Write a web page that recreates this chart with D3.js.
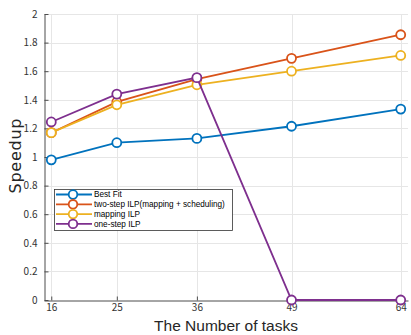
<!DOCTYPE html>
<html>
<head>
<meta charset="utf-8">
<script src="https://cdn.jsdelivr.net/npm/d3@7"></script>
<style>
  html, body { margin: 0; padding: 0; background: #fff; }
  svg { display: block; }
  text { font-family: "Noto Sans CJK JP", "DejaVu Sans", sans-serif; }
</style>
</head>
<body>
<svg id="chart" width="411" height="335"></svg>
<script>
// Number of tasks on the x axis
const tasks = [16, 25, 36, 49, 64];
// Speedup for each method
const bestFit = [0.98, 1.10, 1.13, 1.215, 1.335];
const twoStepILP = [1.17, 1.385, 1.545, 1.69, 1.855];
const mappingILP = [1.17, 1.365, 1.505, 1.60, 1.71];
const oneStepILP = [1.245, 1.44, 1.555, 0, 0];
const seriesNames = ["Best Fit", "two-step ILP(mapping + scheduling)", "mapping ILP", "one-step ILP"];
const seriesColors = ["#0072BD", "#D95319", "#EDB120", "#7E2F8E"];
const yTicks = [0, 0.2, 0.4, 0.6, 0.8, 1, 1.2, 1.4, 1.6, 1.8, 2];

const series = [bestFit, twoStepILP, mappingILP, oneStepILP].map((vals, i) => ({
  name: seriesNames[i], color: seriesColors[i], values: vals
}));

const svg = d3.select("#chart");
const plotLeft = 44, plotRight = 408, plotTop = 14, plotBottom = 300;

const x = d3.scaleLinear().domain([15, 65]).range([plotLeft, plotRight]);
const y = d3.scaleLinear().domain([0, 2]).range([plotBottom, plotTop]);

// grid
const grid = svg.append("g").attr("stroke", "#e6e6e6").attr("stroke-width", 1);
grid.selectAll(".gy").data(yTicks.slice(1)).join("line")
  .attr("x1", plotLeft).attr("x2", plotRight)
  .attr("y1", d => Math.round(y(d)) + 0.5).attr("y2", d => Math.round(y(d)) + 0.5);
grid.selectAll(".gx").data(tasks).join("line")
  .attr("y1", plotTop).attr("y2", plotBottom)
  .attr("x1", d => Math.round(x(d)) + 0.5).attr("x2", d => Math.round(x(d)) + 0.5);

// axes
const yAxis = d3.axisLeft(y).tickValues(yTicks).tickSizeInner(-4).tickSizeOuter(0)
  .tickPadding(7).tickFormat(d3.format("~g"));
const xAxis = d3.axisBottom(x).tickValues(tasks).tickSizeInner(-4).tickSizeOuter(0)
  .tickPadding(4);

const gy = svg.append("g").attr("transform", `translate(${plotLeft + 0.5},0)`).call(yAxis);
const gx = svg.append("g").attr("transform", `translate(0,${plotBottom + 0.5})`).call(xAxis);
[gx, gy].forEach(g => {
  g.select(".domain").attr("stroke", "#4d4d4d");
  g.selectAll(".tick line").attr("stroke", "#4d4d4d");
  g.selectAll(".tick text").attr("fill", "#333").style("font-size", "10px");
});
gx.selectAll(".tick text").attr("dy", "0.6em");

// lines and markers
const line = d3.line().x((d, i) => x(tasks[i])).y(d => y(d));
series.forEach(s => {
  svg.append("path").datum(s.values)
    .attr("fill", "none").attr("stroke", s.color).attr("stroke-width", 1.8)
    .attr("d", line);
  svg.append("g").selectAll("circle").data(s.values).join("circle")
    .attr("cx", (d, i) => x(tasks[i])).attr("cy", d => y(d)).attr("r", 4.5)
    .attr("fill", "#fff").attr("stroke", s.color).attr("stroke-width", 1.8);
});

// axis titles
svg.append("text").attr("x", 226).attr("y", 331).attr("text-anchor", "middle")
  .style("font-size", "15.5px").style("font-family", "'Liberation Sans', Arial, sans-serif")
  .attr("fill", "#262626").text("The Number of tasks");
svg.append("text").attr("transform", "translate(20.5,156) rotate(-90)")
  .attr("text-anchor", "middle").style("font-size", "16px")
  .style("font-family", "'DejaVu Sans', sans-serif")
  .attr("textLength", 75).attr("lengthAdjust", "spacing")
  .attr("fill", "#262626").text("Speedup");

// legend
const lg = svg.append("g");
lg.append("rect").attr("x", 54.5).attr("y", 189.5).attr("width", 178).attr("height", 41)
  .attr("fill", "#fff").attr("stroke", "#333").attr("stroke-width", 0.8);
series.forEach((s, i) => {
  const yy = 194.5 + i * 9.8;
  lg.append("line").attr("x1", 56).attr("x2", 92).attr("y1", yy).attr("y2", yy)
    .attr("stroke", s.color).attr("stroke-width", 1.8);
  lg.append("circle").attr("cx", 73).attr("cy", yy).attr("r", 4.3)
    .attr("fill", "#fff").attr("stroke", s.color).attr("stroke-width", 1.8);
  lg.append("text").attr("x", 94).attr("y", yy).attr("dy", "0.35em")
    .style("font-size", "8.2px").style("font-family", "'Liberation Sans', Arial, sans-serif")
    .attr("fill", "#000").text(s.name);
});
</script>
</body>
</html>
